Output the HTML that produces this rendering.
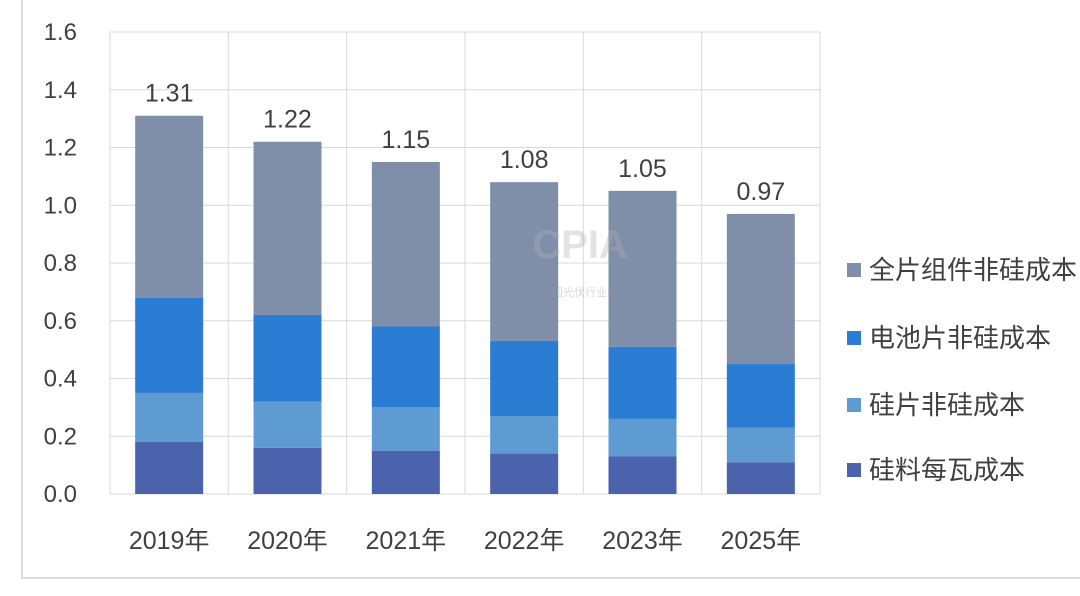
<!DOCTYPE html>
<html><head><meta charset="utf-8"><style>
body{margin:0;background:#fff;}
svg text{font-family:"Liberation Sans","Noto Sans CJK SC",sans-serif;fill:#404040;}
</style></head><body>
<svg id="chart" width="1080" height="591" xmlns="http://www.w3.org/2000/svg">
<rect x="22" y="-1" width="1070" height="579" fill="#fff" stroke="#d0d0d0" stroke-width="1.5"/>
<g id="grid"></g><g id="bars"></g><g id="labels"></g><g id="legend"></g>
<g opacity="0.35">
<text x="580" y="258" font-size="40" font-weight="bold" text-anchor="middle" style="fill:#b0b0b0">CPIA</text>
<text x="585" y="296" font-size="11" text-anchor="middle" style="fill:#909090">中国光伏行业协会</text>
</g>
</svg>
<script>
const categories=["2019年","2020年","2021年","2022年","2023年","2025年"];
const siliconCost=[0.18,0.16,0.15,0.14,0.13,0.11];
const waferCost=[0.17,0.16,0.15,0.13,0.13,0.12];
const cellCost=[0.33,0.30,0.28,0.26,0.25,0.22];
const moduleCost=[0.63,0.60,0.57,0.55,0.54,0.52];
const totals=["1.31","1.22","1.15","1.08","1.05","0.97"];
const yTicks=[0,0.2,0.4,0.6,0.8,1.0,1.2,1.4,1.6];
const seriesNames=["全片组件非硅成本","电池片非硅成本","硅片非硅成本","硅料每瓦成本"];
const NS="http://www.w3.org/2000/svg";
const x0=110,x1=820,y0=494,y1=32;
const band=(x1-x0)/categories.length;
const y=v=>y0-(v/1.6)*(y0-y1);
const xc=i=>x0+band*(i+0.5);
function mk(tag,attrs,parent){const e=document.createElementNS(NS,tag);for(const k in attrs)e.setAttribute(k,attrs[k]);document.getElementById(parent).appendChild(e);return e;}
yTicks.forEach(t=>{
 const l=mk('line',{x1:x0,x2:x1,y1:y(t),y2:y(t),stroke:'#d9d9d9','stroke-width':1},'grid');
 
 
 const tx=mk('text',{x:77,y:y(t)+8,'font-size':24,'text-anchor':'end'},'labels');tx.textContent=t.toFixed(1);
 
 
});
for(let i=0;i<=categories.length;i++){
 const l=mk('line',{x1:x0+band*i,x2:x0+band*i,y1:y1,y2:y0,stroke:'#d9d9d9','stroke-width':1},'grid');
 
 
}
const series=[siliconCost,waferCost,cellCost,moduleCost];
const colors=["#4a63ac","#5e9bd2","#2b7cd3","#7f8faa"];
const bw=68;
categories.forEach((c,i)=>{
 let acc=0;
 series.forEach((s,k)=>{
  const top=acc+s[i];
  const r=mk('rect',{x:xc(i)-bw/2,y:y(top),width:bw,height:y(acc)-y(top),fill:colors[k]},'bars');
  
  
  acc=top;
 });
 const t=mk('text',{x:xc(i),y:y(acc)-14,'font-size':25,'text-anchor':'middle'},'labels');t.textContent=totals[i];
 
 
 const cl=mk('text',{x:xc(i),y:549,'font-size':25,'text-anchor':'middle'},'labels');cl.textContent=c;
 
 
});
const legColors=["#7f8faa","#2b7cd3","#5e9bd2","#4a63ac"];
const legY=[270,338,405,470];
seriesNames.forEach((n,k)=>{
 const r=mk('rect',{x:847,y:legY[k]-7,width:14,height:14,fill:legColors[k]},'legend');
 
 
 const t=mk('text',{x:869,y:legY[k]+9,'font-size':26},'legend');t.textContent=n;
 
 
});
</script>
</body></html>
